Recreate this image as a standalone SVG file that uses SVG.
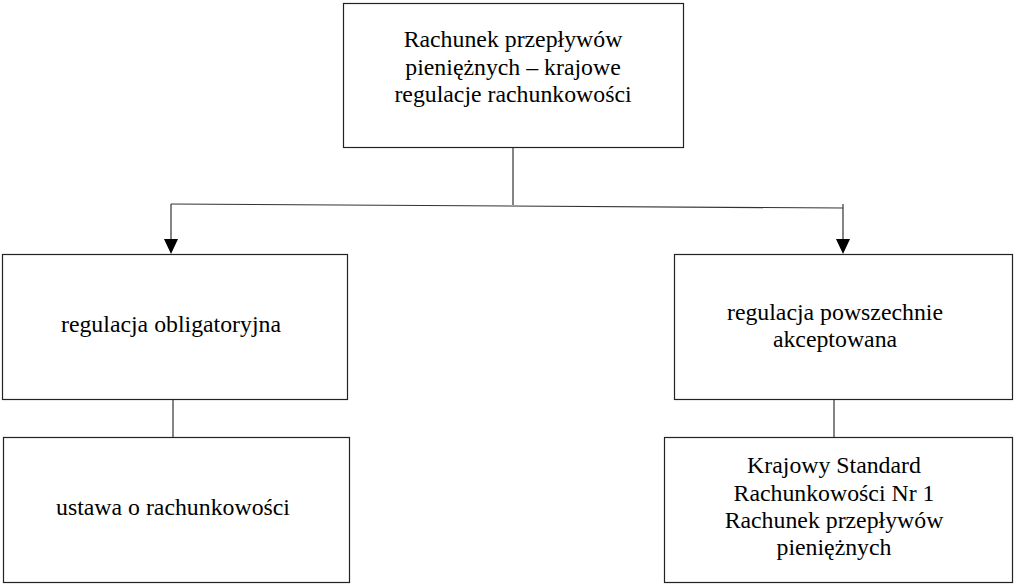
<svg xmlns="http://www.w3.org/2000/svg" width="1014" height="584" viewBox="0 0 1014 584">
<style>
.box{fill:#fff;stroke:#222;stroke-width:1.2}
.t{font-family:"Liberation Serif","Times New Roman",serif;font-size:23.8px;fill:#000;text-anchor:middle}
.c{stroke:#333;stroke-width:1.2;fill:none}
.ah{fill:#000}
</style>
<g id="connectors">
<line class="c" x1="513" y1="147" x2="513" y2="205"/>
<line class="c" x1="171" y1="204" x2="843" y2="208"/>
<path class="c" d="M171,204 L171,240"/>
<path class="ah" d="M164,239 L178,239 L171,254 Z"/>
<path class="c" d="M843,204 L843,240"/>
<path class="ah" d="M836,239 L850,239 L843,254 Z"/>
<line class="c" x1="173" y1="399" x2="173" y2="437"/>
<line class="c" x1="834" y1="399" x2="834" y2="437"/>
</g>
<g id="root">
<rect class="box" x="343.5" y="3.5" width="340" height="144"/>
<text class="t" x="513" y="47">Rachunek przepływów</text>
<text class="t" x="513" y="75">pieniężnych – krajowe</text>
<text class="t" x="513" y="102">regulacje rachunkowości</text>
</g>
<g id="obligatoryjna">
<rect class="box" x="2.5" y="254.5" width="345" height="145"/>
<text class="t" x="171" y="332">regulacja obligatoryjna</text>
</g>
<g id="ustawa">
<rect class="box" x="3.5" y="437.5" width="346" height="145"/>
<text class="t" x="173" y="515">ustawa o rachunkowości</text>
</g>
<g id="powszechnie">
<rect class="box" x="674.5" y="254.5" width="338" height="145"/>
<text class="t" x="835" y="320">regulacja powszechnie</text>
<text class="t" x="835" y="347">akceptowana</text>
</g>
<g id="ksr">
<rect class="box" x="664.5" y="437.5" width="348" height="145"/>
<text class="t" x="834" y="473">Krajowy Standard</text>
<text class="t" x="834" y="501">Rachunkowości Nr 1</text>
<text class="t" x="834" y="528">Rachunek przepływów</text>
<text class="t" x="834" y="555">pieniężnych</text>
</g>
</svg>
